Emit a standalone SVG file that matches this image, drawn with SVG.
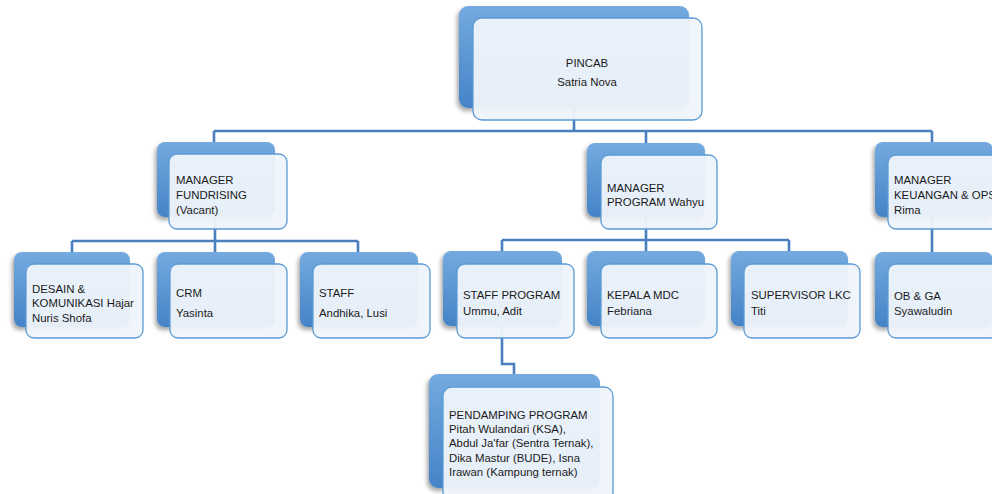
<svg xmlns="http://www.w3.org/2000/svg" width="992" height="494" viewBox="0 0 992 494">
<defs>
<linearGradient id="bg" x1="0" y1="0" x2="0" y2="1">
<stop offset="0" stop-color="#74aadf"/>
<stop offset="1" stop-color="#4583c7"/>
</linearGradient>
<filter id="sh" x="-20%" y="-20%" width="140%" height="150%">
<feDropShadow dx="-2" dy="3" stdDeviation="2" flood-color="#000" flood-opacity="0.35"/>
</filter>
<style>
.back{fill:url(#bg);filter:url(#sh)}
.front{fill:#eff4fb;fill-opacity:0.95;stroke:#5b9bd5;stroke-width:1.3}
.conn{fill:none;stroke:#4a7fc0;stroke-width:2.6}
text{font-family:"Liberation Sans",Arial,sans-serif;font-size:11.4px;fill:#1a1a1a}
</style>
</defs>
<rect width="992" height="494" fill="#fff"/>
<g id="connectors">
<path class="conn" d="M574,108 V131 M214,131 H932 M214,131 V142 M646,131 V143 M932,131 V142"/>
<path class="conn" d="M215,217 V241 M72,241 H358 M72,241 V252 M215,241 V252 M358,241 V252"/>
<path class="conn" d="M646,217 V240 M502,240 H789 M502,240 V251 M646,240 V251 M789,240 V251"/>
<path class="conn" d="M932,217 V252"/>
<path class="conn" d="M502,326 V364 H514 V374"/>
</g>
<g id="pincab">
<rect class="back" x="459" y="6" width="230" height="102" rx="9"/>
<rect class="front" x="473" y="18" width="229" height="102" rx="9"/>
<text x="587" y="67" text-anchor="middle">PINCAB</text>
<text x="587" y="86" text-anchor="middle">Satria Nova</text>
</g>
<g id="mgr-fundrising">
<rect class="back" x="157" y="142" width="118" height="75" rx="8"/>
<rect class="front" x="169" y="154" width="118" height="75" rx="8"/>
<text x="176" y="184">MANAGER</text>
<text x="176" y="199">FUNDRISING</text>
<text x="176" y="214">(Vacant)</text>
</g>
<g id="mgr-program">
<rect class="back" x="587" y="143" width="118" height="74" rx="8"/>
<rect class="front" x="601" y="155" width="116" height="74" rx="8"/>
<text x="607" y="192">MANAGER</text>
<text x="607" y="206">PROGRAM Wahyu</text>
</g>
<g id="mgr-keuangan">
<rect class="back" x="875" y="142" width="118" height="75" rx="8"/>
<rect class="front" x="888" y="155" width="118" height="74" rx="8"/>
<text x="894" y="184">MANAGER</text>
<text x="894" y="199">KEUANGAN &amp; OPS</text>
<text x="894" y="214">Rima</text>
</g>
<g id="desain">
<rect class="back" x="14" y="252" width="116" height="75" rx="8"/>
<rect class="front" x="26" y="264" width="117" height="74" rx="8"/>
<text x="32" y="293">DESAIN &amp;</text>
<text x="32" y="307">KOMUNIKASI Hajar</text>
<text x="32" y="322">Nuris Shofa</text>
</g>
<g id="crm">
<rect class="back" x="157" y="252" width="118" height="75" rx="8"/>
<rect class="front" x="170" y="264" width="117" height="74" rx="8"/>
<text x="176" y="297">CRM</text>
<text x="176" y="317">Yasinta</text>
</g>
<g id="staff">
<rect class="back" x="300" y="252" width="118" height="75" rx="8"/>
<rect class="front" x="313" y="264" width="117" height="74" rx="8"/>
<text x="319" y="297">STAFF</text>
<text x="319" y="317">Andhika, Lusi</text>
</g>
<g id="staff-program">
<rect class="back" x="443" y="251" width="119" height="75" rx="8"/>
<rect class="front" x="457" y="264" width="117" height="74" rx="8"/>
<text x="463" y="299">STAFF PROGRAM</text>
<text x="463" y="315">Ummu, Adit</text>
</g>
<g id="kepala-mdc">
<rect class="back" x="587" y="251" width="118" height="75" rx="8"/>
<rect class="front" x="601" y="264" width="116" height="74" rx="8"/>
<text x="607" y="299">KEPALA MDC</text>
<text x="607" y="315">Febriana</text>
</g>
<g id="supervisor-lkc">
<rect class="back" x="731" y="251" width="117" height="75" rx="8"/>
<rect class="front" x="744" y="264" width="116" height="74" rx="8"/>
<text x="751" y="299">SUPERVISOR LKC</text>
<text x="751" y="315">Titi</text>
</g>
<g id="ob-ga">
<rect class="back" x="875" y="252" width="118" height="75" rx="8"/>
<rect class="front" x="888" y="264" width="118" height="74" rx="8"/>
<text x="894" y="300">OB &amp; GA</text>
<text x="894" y="315">Syawaludin</text>
</g>
<g id="pendamping">
<rect class="back" x="429" y="374" width="171" height="114" rx="9"/>
<rect class="front" x="443" y="387" width="170" height="114" rx="9"/>
<text x="449" y="419">PENDAMPING PROGRAM</text>
<text x="449" y="433">Pitah Wulandari (KSA),</text>
<text x="449" y="447">Abdul Ja'far (Sentra Ternak),</text>
<text x="449" y="462">Dika Mastur (BUDE), Isna</text>
<text x="449" y="476">Irawan (Kampung ternak)</text>
</g>
</svg>
